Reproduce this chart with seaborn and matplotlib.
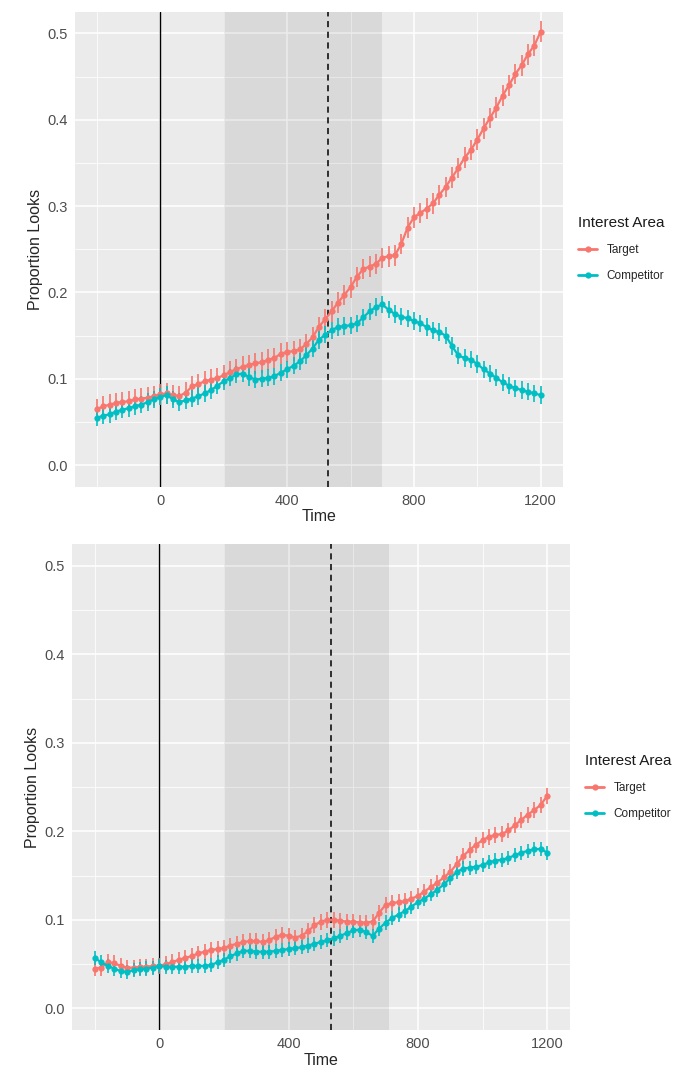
import numpy as np
import pandas as pd
import seaborn as sns
import matplotlib.pyplot as plt
from matplotlib.lines import Line2D

# time bins (ms), 20 ms steps
time = list(range(-200, 1201, 20))

# top panel
target_top = [0.065, 0.068, 0.070, 0.072, 0.073, 0.074, 0.076, 0.077, 0.078, 0.080,
              0.082, 0.083, 0.081, 0.080, 0.084, 0.091, 0.094, 0.097, 0.099, 0.101,
              0.104, 0.108, 0.111, 0.114, 0.116, 0.118, 0.119, 0.122, 0.124, 0.129,
              0.131, 0.132, 0.134, 0.140, 0.148, 0.160, 0.169, 0.178, 0.188, 0.197,
              0.206, 0.218, 0.227, 0.230, 0.233, 0.240, 0.242, 0.243, 0.256, 0.275,
              0.287, 0.292, 0.297, 0.303, 0.313, 0.322, 0.333, 0.344, 0.356, 0.365,
              0.377, 0.390, 0.402, 0.414, 0.428, 0.440, 0.453, 0.463, 0.476, 0.486,
              0.502]
comp_top = [0.055, 0.057, 0.059, 0.062, 0.064, 0.066, 0.068, 0.070, 0.073, 0.076,
            0.079, 0.081, 0.076, 0.073, 0.075, 0.077, 0.080, 0.083, 0.087, 0.092,
            0.097, 0.101, 0.105, 0.106, 0.102, 0.099, 0.100, 0.101, 0.103, 0.107,
            0.111, 0.115, 0.120, 0.127, 0.135, 0.145, 0.151, 0.156, 0.160, 0.161,
            0.162, 0.164, 0.171, 0.178, 0.183, 0.186, 0.180, 0.175, 0.172, 0.170,
            0.167, 0.164, 0.160, 0.156, 0.154, 0.150, 0.138, 0.127, 0.124, 0.122,
            0.117, 0.111, 0.106, 0.101, 0.096, 0.092, 0.089, 0.087, 0.085, 0.083,
            0.081]

# bottom panel
target_bot = [0.045, 0.046, 0.052, 0.051, 0.048, 0.046, 0.046, 0.047, 0.047, 0.048,
              0.048, 0.050, 0.052, 0.055, 0.057, 0.059, 0.062, 0.064, 0.066, 0.067,
              0.068, 0.071, 0.073, 0.075, 0.076, 0.076, 0.075, 0.077, 0.081, 0.083,
              0.082, 0.080, 0.082, 0.087, 0.094, 0.098, 0.100, 0.100, 0.099, 0.098,
              0.098, 0.097, 0.097, 0.098, 0.108, 0.117, 0.119, 0.120, 0.121, 0.124,
              0.127, 0.132, 0.137, 0.142, 0.148, 0.154, 0.163, 0.172, 0.179, 0.185,
              0.190, 0.194, 0.196, 0.197, 0.201, 0.207, 0.213, 0.219, 0.224, 0.230,
              0.240]
comp_bot = [0.057, 0.052, 0.048, 0.045, 0.042, 0.041, 0.043, 0.044, 0.045, 0.046,
            0.048, 0.047, 0.047, 0.047, 0.047, 0.048, 0.048, 0.048, 0.049, 0.052,
            0.055, 0.059, 0.062, 0.065, 0.065, 0.064, 0.064, 0.064, 0.065, 0.066,
            0.067, 0.068, 0.069, 0.071, 0.073, 0.075, 0.077, 0.079, 0.082, 0.085,
            0.088, 0.089, 0.086, 0.082, 0.090, 0.097, 0.102, 0.106, 0.110, 0.115,
            0.120, 0.124, 0.129, 0.134, 0.140, 0.147, 0.154, 0.158, 0.159, 0.160,
            0.162, 0.165, 0.167, 0.168, 0.170, 0.173, 0.176, 0.178, 0.180, 0.180,
            0.176]

# approx standard errors (half length of the bars)
se_top = {'Target': 0.012, 'Competitor': 0.010}
se_bot = {'Target': 0.009, 'Competitor': 0.008}

areas = ['Target', 'Competitor']
palette = {'Target': '#F8766D', 'Competitor': '#00BFC4'}

# shaded window and reference lines
window_top = (200, 700)
window_bot = (200, 710)
onset = 0
marker_t = 530


def make_df(target, comp):
    d1 = pd.DataFrame({'Time': time, 'Proportion': target, 'Area': 'Target'})
    d2 = pd.DataFrame({'Time': time, 'Proportion': comp, 'Area': 'Competitor'})
    return pd.concat([d1, d2], ignore_index=True)


sns.set_theme(style='darkgrid')
plt.rcParams['font.family'] = ['Liberation Sans', 'DejaVu Sans']

fig = plt.figure(figsize=(7, 10.79), dpi=100)
ax1 = fig.add_axes([0.107, 0.549, 0.697, 0.440])
ax2 = fig.add_axes([0.103, 0.045, 0.711, 0.451])


def draw(ax, df, se, window):
    ax.set_facecolor('#EBEBEB')
    ax.set_xlim(-270, 1270)
    ax.set_ylim(-0.025, 0.525)
    ax.set_xticks([0, 400, 800, 1200])
    ax.set_yticks([0.0, 0.1, 0.2, 0.3, 0.4, 0.5])
    ax.set_yticklabels(['0.0', '0.1', '0.2', '0.3', '0.4', '0.5'])
    ax.set_xticks([-200, 200, 600, 1000], minor=True)
    ax.set_yticks([0.05, 0.15, 0.25, 0.35, 0.45], minor=True)
    ax.grid(which='major', color='white', linewidth=1.1)
    ax.grid(which='minor', color='white', linewidth=0.55)
    ax.set_axisbelow(True)
    for s in ax.spines.values():
        s.set_visible(False)

    ax.axvspan(window[0], window[1], color='black', alpha=0.075, linewidth=0, zorder=1)
    ax.axvline(onset, color='black', linewidth=1, zorder=2)
    ax.axvline(marker_t, color='black', linewidth=1.1, linestyle=(0, (4, 3)), zorder=2)

    for a in areas:
        sub = df[df['Area'] == a]
        ax.vlines(sub['Time'], sub['Proportion'] - se[a], sub['Proportion'] + se[a],
                  color=palette[a], linewidth=1.2, zorder=3)
    sns.lineplot(data=df, x='Time', y='Proportion', hue='Area', palette=palette,
                 hue_order=areas, marker='o', markersize=4.5, markeredgewidth=0,
                 linewidth=1.6, errorbar=None, legend=False, ax=ax, zorder=4)

    ax.tick_params(axis='both', which='major', length=3, width=0.8, color='#333333',
                   labelsize=10.5, labelcolor='#4D4D4D', pad=2)
    ax.tick_params(which='minor', length=0)
    ax.set_xlabel('Time', fontsize=11.5, labelpad=1)
    ax.set_ylabel('Proportion Looks', fontsize=11.5, labelpad=3)

    handles = [Line2D([0], [0], color=palette[a], marker='o', markersize=4.5,
                      markeredgewidth=0, linewidth=2) for a in areas]
    leg = ax.legend(handles, areas, title='Interest Area', loc='center left',
                    bbox_to_anchor=(1.01, 0.5), frameon=False, fontsize=8.5,
                    title_fontsize=11, handlelength=1.6, labelspacing=1.2,
                    alignment='left')
    leg.get_title().set_color('#1A1A1A')


draw(ax1, make_df(target_top, comp_top), se_top, window_top)
draw(ax2, make_df(target_bot, comp_bot), se_bot, window_bot)

fig.savefig('out.png', dpi=100)
